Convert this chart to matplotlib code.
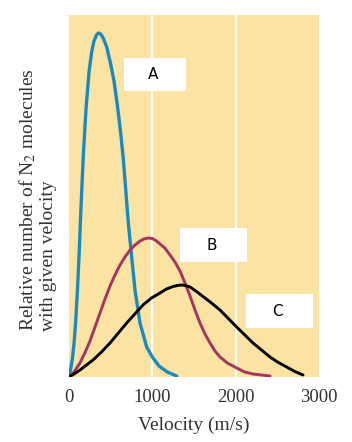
import numpy as np
import matplotlib
matplotlib.use("Agg")
import matplotlib.pyplot as plt
from matplotlib.patches import Rectangle

# velocity (m/s) and relative number
vel_a = [0, 10, 20, 40, 60, 80, 100, 120, 144, 172, 204, 240, 272, 300, 330,
         352, 380, 410, 452, 500, 540, 580, 620, 652, 680, 712, 752, 792, 852,
         932, 1000, 1080, 1180, 1292]
num_a = [0, 3, 8, 18, 33, 55, 85, 120, 170, 222, 268, 305, 325, 336, 342,
         344, 343, 339, 330, 313, 296, 272, 244, 218, 188, 154, 120, 87, 54,
         30, 20, 11, 5, 1]

vel_b = [0, 60, 132, 190, 252, 312, 372, 432, 492, 552, 612, 672, 732, 792,
         852, 900, 952, 1000, 1050, 1092, 1150, 1212, 1272, 1332, 1392, 1452,
         1512, 1572, 1632, 1692, 1752, 1812, 1900, 2012, 2108, 2208, 2412]
num_b = [0, 5, 14, 24, 36, 50, 64, 78, 91, 102, 112, 120, 127, 132,
         136, 138, 139, 138.5, 136, 133, 129, 122, 115, 106, 94, 81,
         67, 54, 43, 34, 26, 20, 14, 9, 5, 3, 1]

vel_c = [0, 60, 132, 210, 288, 390, 492, 592, 692, 790, 888, 990, 1092, 1170,
         1248, 1300, 1352, 1400, 1452, 1530, 1608, 1710, 1812, 1912, 2012,
         2110, 2208, 2310, 2412, 2512, 2612, 2710, 2808]
num_c = [0, 3, 7, 12, 17, 25, 34, 44, 54, 63, 72, 79, 84, 88,
         90.5, 91.5, 92, 91.5, 90, 85.5, 80.5, 74, 67, 58.5, 50,
         42, 34, 27, 20, 14.5, 10, 5.5, 2]

labels = ["A", "B", "C"]
x_ticks = [0, 1000, 2000, 3000]

bg = "#fbe3a3"
blue = "#1a8abe"
magenta = "#a3365f"

fig = plt.figure(figsize=(3.52, 4.42), dpi=100)
ax = fig.add_axes([69/352, 65/442, 250/352, 362/442])
ax.set_facecolor(bg)

for s in ax.spines.values():
    s.set_visible(False)

for xv in x_ticks[1:3]:
    ax.axvline(xv, color="white", lw=1.6, zorder=1)

ax.plot(vel_a, num_a, color=blue, lw=2.4, zorder=3, solid_capstyle="round",
        solid_joinstyle="round")
ax.plot(vel_b, num_b, color=magenta, lw=2.1, zorder=3, solid_capstyle="round",
        solid_joinstyle="round")
ax.plot(vel_c, num_c, color="black", lw=2.1, zorder=3, solid_capstyle="round",
        solid_joinstyle="round")

# white label boxes
boxes = [(660, 286, 740, 33), (1332, 115, 800, 34), (2124, 49, 800, 34)]
for (bx, by, bw, bh), lab in zip(boxes, labels):
    ax.add_patch(Rectangle((bx, by), bw, bh, facecolor="white",
                           edgecolor="none", zorder=4))
    ax.text(bx + bw/2 - 20, by + bh/2, lab, ha="center", va="center",
            fontsize=11, family="DejaVu Sans", zorder=5)

ax.set_xlim(0, 3000)
ax.set_ylim(0, 362)
ax.set_xticks(x_ticks)
ax.set_xticklabels([str(t) for t in x_ticks], family="Liberation Serif",
                   fontsize=13.5, color="#333333")
ax.set_yticks([])
ax.tick_params(axis="x", length=0, pad=9)
ax.set_xlabel("Velocity (m/s)", family="Liberation Serif", fontsize=14,
              color="#333333", labelpad=7)

fig.text(37/352, 1 - 200/442,
         "Relative number of N$_2$ molecules\nwith given velocity",
         rotation=90, ha="center", va="center", multialignment="left",
         family="Liberation Serif", fontsize=14, color="#333333",
         math_fontfamily="stix")

fig.savefig("out.png", dpi=100, facecolor="white")
